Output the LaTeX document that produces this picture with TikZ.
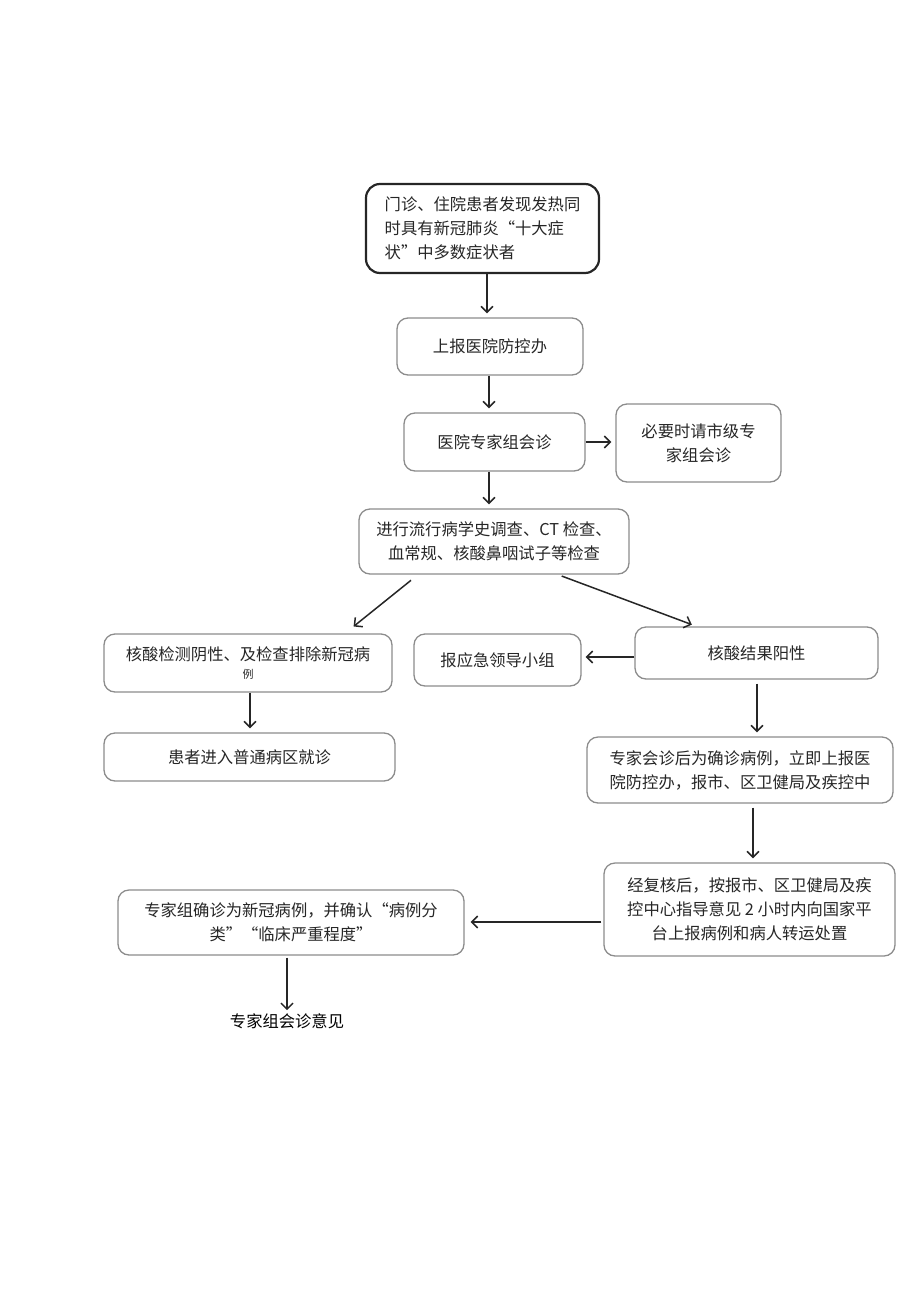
\documentclass[tikz,border=0pt]{standalone}
\usepackage{fontspec}
\newfontfamily\cjk{Noto Sans CJK SC}
\usetikzlibrary{arrows.meta}

\begin{document}
\begin{tikzpicture}
    [x=1pt,y=-1pt,
    font={\cjk\fontsize{16.3}{24}\selectfont},
    box/.style={rectangle,draw=black!45,line width=1.3pt,rounded corners=11pt,
      inner sep=0pt,align=center,text=black!85},
    start/.style={box,draw=black!85,line width=2.2pt,rounded corners=14pt},
    arr/.style={draw=black!85,line width=1.5pt,
      -{Straight Barb[length=6pt,width=12pt]},shorten >=4pt}]

    \useasboundingbox (0,0) rectangle (920,1301);

    \node[start,minimum width=233pt,minimum height=89pt,align=left] (fever)    at (482.5,228.5)
      {门诊、住院患者发现发热同\\时具有新冠肺炎“十大症\\状”中多数症状者};

    \node[box,minimum width=186pt,minimum height=57pt] (report)   at (490,346.5) {上报医院防控办};

    \node[box,minimum width=181pt,minimum height=58pt] (panel)    at (494.5,442) {医院专家组会诊};

    \node[box,minimum width=165pt,minimum height=78pt] (city)     at (698.5,443) {必要时请市级专\\家组会诊};

    \node[box,minimum width=270pt,minimum height=65pt] (exam)     at (494,541.5)
      {进行流行病学史调查、CT 检查、\\血常规、核酸鼻咽试子等检查};

    \node[box,minimum width=288pt,minimum height=58pt] (negative) at (248,663)
      {核酸检测阴性、及检查排除新冠病\\[-6pt]{\fontsize{11}{14}\selectfont 例}};

    \node[box,minimum width=167pt,minimum height=52pt] (leader)   at (497.5,660) {报应急领导小组};

    \node[box,minimum width=243pt,minimum height=52pt] (positive) at (756.5,653) {核酸结果阳性};

    \node[box,minimum width=291pt,minimum height=48pt] (ward)     at (249.5,757) {患者进入普通病区就诊};

    \node[box,minimum width=306pt,minimum height=66pt] (confirm)  at (740,770)
      {专家会诊后为确诊病例，立即上报医\\院防控办，报市、区卫健局及疾控中};

    \node[box,minimum width=291pt,minimum height=93pt] (recheck)  at (749.5,909.5)
      {经复核后，按报市、区卫健局及疾\\控中心指导意见 2 小时内向国家平\\台上报病例和病人转运处置};

    \node[box,minimum width=346pt,minimum height=65pt] (group)    at (291,922.5)
      {专家组确诊为新冠病例，并确认“病例分\\类”“临床严重程度”};

    \node[inner sep=1pt] (opinion) at (287,1021) {专家组会诊意见};

    % connectors
    \draw[arr] (fever.south -| 487,0) -- (report.north -| 487,0);
    \draw[arr] (report.south -| 489,0) -- (panel.north -| 489,0);
    \draw[arr] (panel.east) -- (panel.east -| city.west);
    \draw[arr] (panel.south -| 489,0) -- (exam.north -| 489,0);
    \draw[arr,shorten <=9pt,shorten >=11pt] ([xshift=-76pt]exam.south) -- ([xshift=97pt]negative.north);
    \draw[arr,shorten <=4pt,shorten >=5pt] ([xshift=64pt]exam.south) -- ([xshift=-60pt]positive.north);
    \draw[arr] (positive.west |- 0,657) -- (leader.east |- 0,657);
    \draw[arr] (negative.south -| 250,0) -- (ward.north -| 250,0);
    \draw[arr,shorten <=4pt] (positive.south -| 757,0) -- (confirm.north -| 757,0);
    \draw[arr,shorten <=4pt] (confirm.south -| 753,0) -- (recheck.north -| 753,0);
    \draw[arr,shorten <=2pt,shorten >=6pt] (recheck.west |- 0,922) -- (group.east |- 0,922);
    \draw[arr,shorten <=2pt,shorten >=2pt] (group.south -| 287,0) -- (opinion.north);

  \end{tikzpicture}
\end{document}
